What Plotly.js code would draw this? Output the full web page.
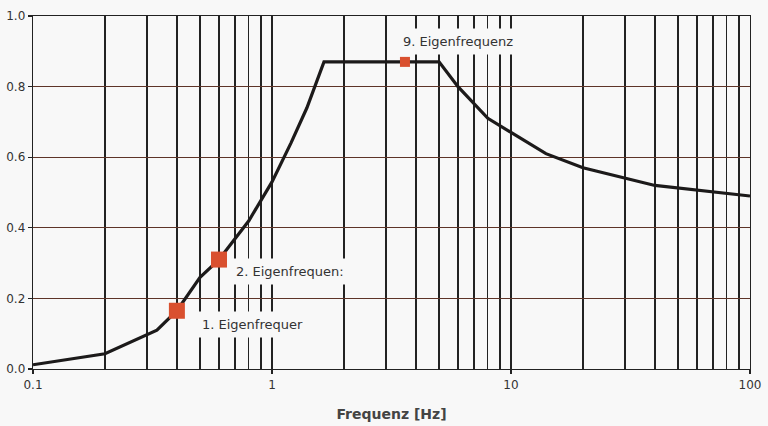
<!DOCTYPE html>
<html>
<head>
<meta charset="utf-8">
<script src="https://cdn.plot.ly/plotly-3.0.1.min.js"></script>
<style>
  html, body { margin: 0; padding: 0; background: #f8f8f8; }
  #chart { width: 768px; height: 426px; }
</style>
</head>
<body>
<div id="chart"></div>
<script>
// Response curve (frequency in Hz, normalized value)
const freq   = [0.1, 0.2, 0.33, 0.4, 0.5, 0.6, 0.8, 1.0, 1.2, 1.4, 1.65, 5, 6, 8, 10, 14, 20, 40, 100];
const values = [0.012, 0.043, 0.11, 0.165, 0.26, 0.31, 0.42, 0.53, 0.64, 0.74, 0.87, 0.87, 0.80, 0.71, 0.67, 0.61, 0.57, 0.52, 0.49];

// Marked natural frequencies
const modeFreq   = [0.4, 0.6, 3.6];
const modeValue  = [0.165, 0.31, 0.87];
const modeLabels = ["1. Eigenfrequer", "2. Eigenfrequen:", "9. Eigenfrequenz"];
const modeSizes  = [16, 16, 10];

// Axis ticks
const xMajor = [0.1, 1, 10, 100];
const xMajorText = ["0.1", "1", "10", "100"];
const xMinor = [0.2,0.3,0.4,0.5,0.6,0.7,0.8,0.9, 2,3,4,5,6,7,8,9, 20,30,40,50,60,70,80,90];
const yTicks = [0, 0.2, 0.4, 0.6, 0.8, 1.0];
const yTickText = ["0.0", "0.2", "0.4", "0.6", "0.8", "1.0"];

const bg = "#f8f8f8";
const font = "DejaVu Sans, Open Sans, sans-serif";

const traces = [
  {
    x: freq, y: values, type: "scatter", mode: "lines",
    line: { color: "#1c1a1a", width: 3.2 },
    hoverinfo: "skip", showlegend: false
  },
  {
    x: modeFreq, y: modeValue, type: "scatter", mode: "markers",
    opacity: 1,
    marker: { symbol: "square", size: modeSizes, color: "#d9502f", opacity: 1, line: { width: 0 } },
    showlegend: false
  }
];

const shifts = [[19, -14], [11, -12], [-8, 20]];
const annotations = modeLabels.map((t, i) => ({
  x: Math.log10(modeFreq[i]), y: modeValue[i], xref: "x", yref: "y",
  text: t, showarrow: false, xanchor: "left", yanchor: "middle",
  xshift: shifts[i][0], yshift: shifts[i][1],
  bgcolor: bg, borderpad: 5,
  font: { family: font, size: 13, color: "#333" }
}));

const layout = {
  width: 768, height: 426,
  paper_bgcolor: bg, plot_bgcolor: bg,
  margin: { l: 33, r: 18, t: 16, b: 57 },
  xaxis: {
    type: "log", range: [-1, 2],
    tickmode: "array", tickvals: xMajor, ticktext: xMajorText,
    ticks: "outside", ticklen: 4, tickcolor: "#222", tickwidth: 1.3,
    showgrid: true, gridcolor: "#222", gridwidth: 1.3,
    minor: { tickmode: "array", tickvals: xMinor, showgrid: true, gridcolor: "#222", gridwidth: 1.3, ticks: "" },
    showline: true, linecolor: "#222", linewidth: 1.3, mirror: true,
    zeroline: false,
    tickfont: { family: font, size: 12, color: "#333" },
    title: { text: "Frequenz [Hz]", font: { family: font, size: 14, color: "#444", weight: "bold" }, standoff: 18 }
  },
  yaxis: {
    range: [0, 1], tickmode: "array", tickvals: yTicks, ticktext: yTickText,
    ticks: "outside", ticklen: 4, tickcolor: "#222", tickwidth: 1.3,
    showgrid: true, gridcolor: "#5e3428", gridwidth: 1.2,
    showline: true, linecolor: "#222", linewidth: 1.3, mirror: true,
    zeroline: false,
    tickfont: { family: font, size: 12, color: "#333" }
  },
  annotations: annotations,
  font: { family: font }
};

Plotly.newPlot("chart", traces, layout, { displayModeBar: false, staticPlot: true });
</script>
</body>
</html>
